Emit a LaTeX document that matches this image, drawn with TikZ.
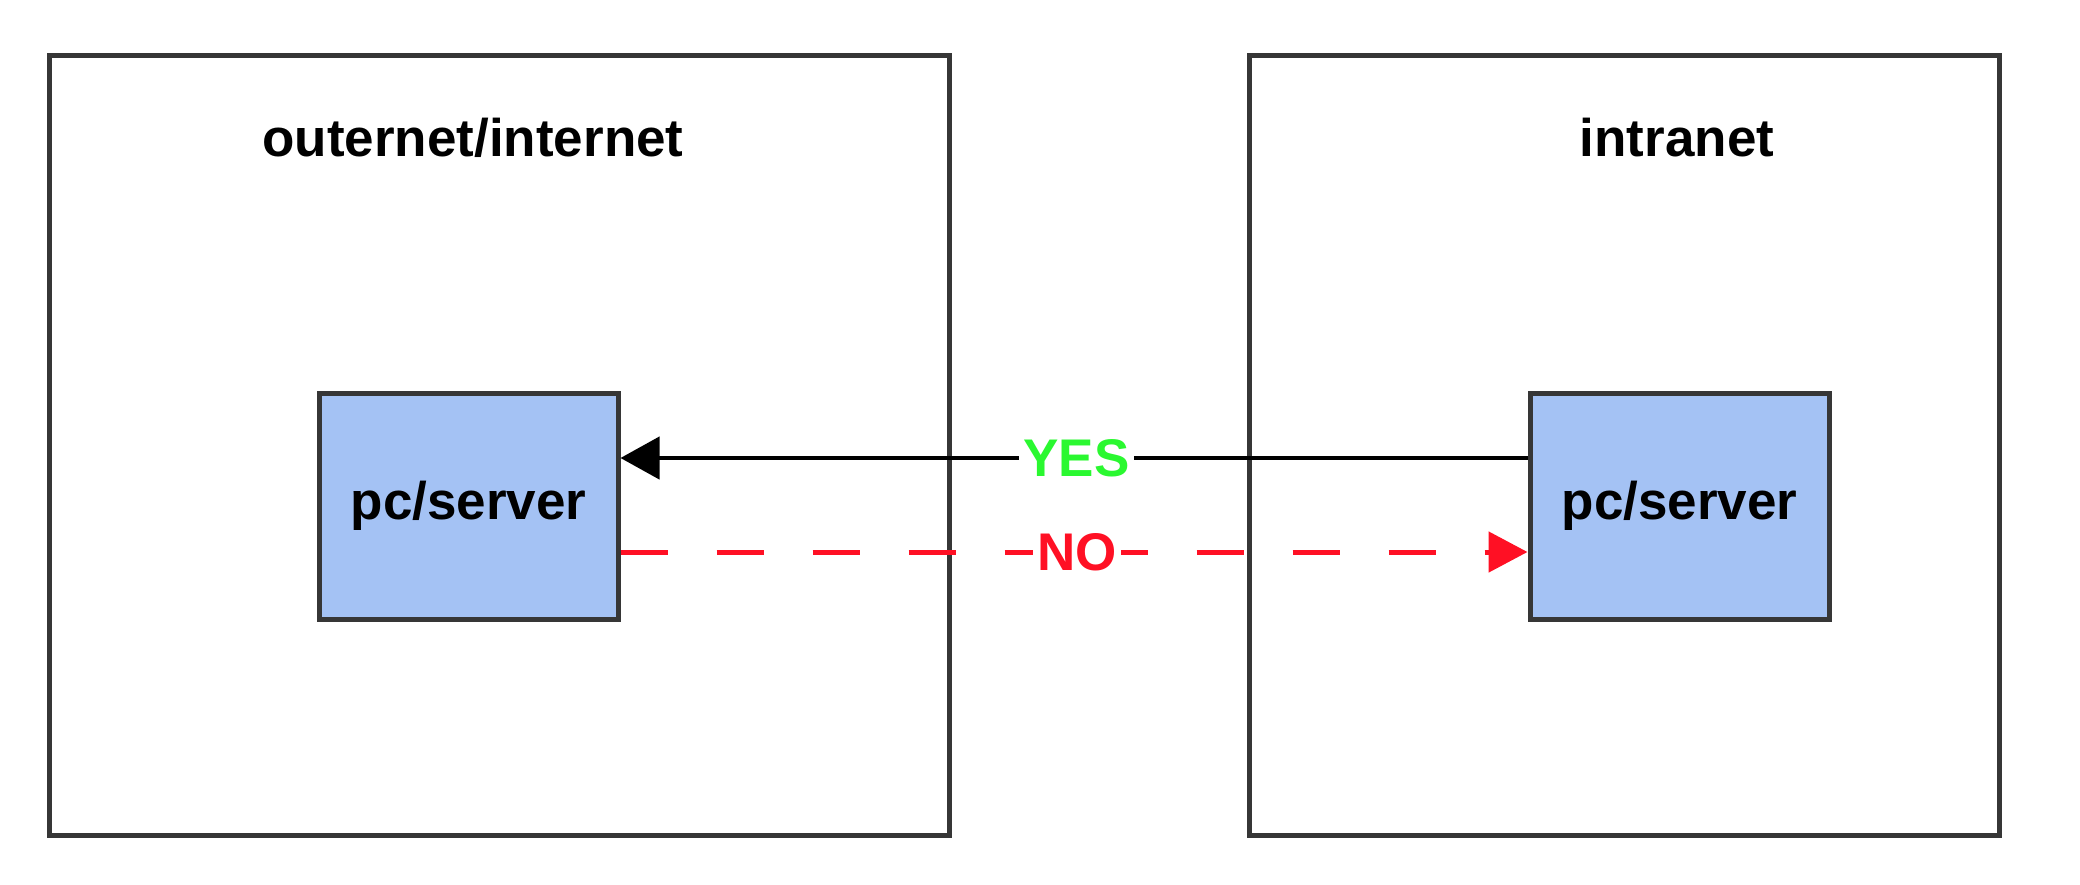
\documentclass[tikz,border=0pt]{standalone}
\usepackage{fontspec}
\setmainfont{Liberation Sans}
\usetikzlibrary{arrows.meta}
\definecolor{bordergray}{HTML}{363636}
\definecolor{boxblue}{HTML}{A4C2F4}
\definecolor{yesgreen}{HTML}{2AF830}
\definecolor{nored}{HTML}{FF1024}
\tikzset{
  bigfont/.style={font=\fontsize{53}{60}\selectfont\bfseries},
  zonebox/.style={draw=bordergray, line width=5pt, fill=white, inner sep=0pt},
  pcbox/.style={draw=bordergray, line width=5pt, fill=boxblue, inner sep=0pt, bigfont,
    minimum width=299pt, minimum height=226pt},
  zonetitle/.style={bigfont, anchor=base, inner sep=0pt},
  yesline/.style={draw=black, line width=4.5pt, -{Triangle[length=39pt,width=42pt]}},
  noline/.style={draw=nored, line width=5pt, dash pattern=on 47pt off 49pt,
    -{Triangle[length=39pt,width=40pt,color=nored]}},
  linelabel/.style={bigfont, fill=white, inner xsep=4pt, inner ysep=1pt}
}
\begin{document}
\begin{tikzpicture}[x=1pt,y=-1pt]
\useasboundingbox (0,0) rectangle (2080,884);
\node[zonebox, minimum width=900pt, minimum height=780pt] (outer) at (499,445) {};
\node[zonebox, minimum width=750pt, minimum height=780pt] (intra) at (1624,445) {};
\node[zonetitle] (outertitle) at (473,156) {outernet/internet};
\node[zonetitle] (intratitle) at (1677,156) {intranet};
\node[pcbox] (L) at (468.5,506) {pc/server};
\node[pcbox] (R) at (1679.5,506) {pc/server};
\draw[yesline] ([yshift=48pt]R.west) -- node[linelabel, text=yesgreen, xshift=2.5pt] (yes) {YES} ([yshift=48pt]L.east);
\draw[noline] ([yshift=-46pt]L.east) -- node[linelabel, text=nored, xshift=3pt] (no) {NO} ([yshift=-46pt]R.west);
\end{tikzpicture}
\end{document}
